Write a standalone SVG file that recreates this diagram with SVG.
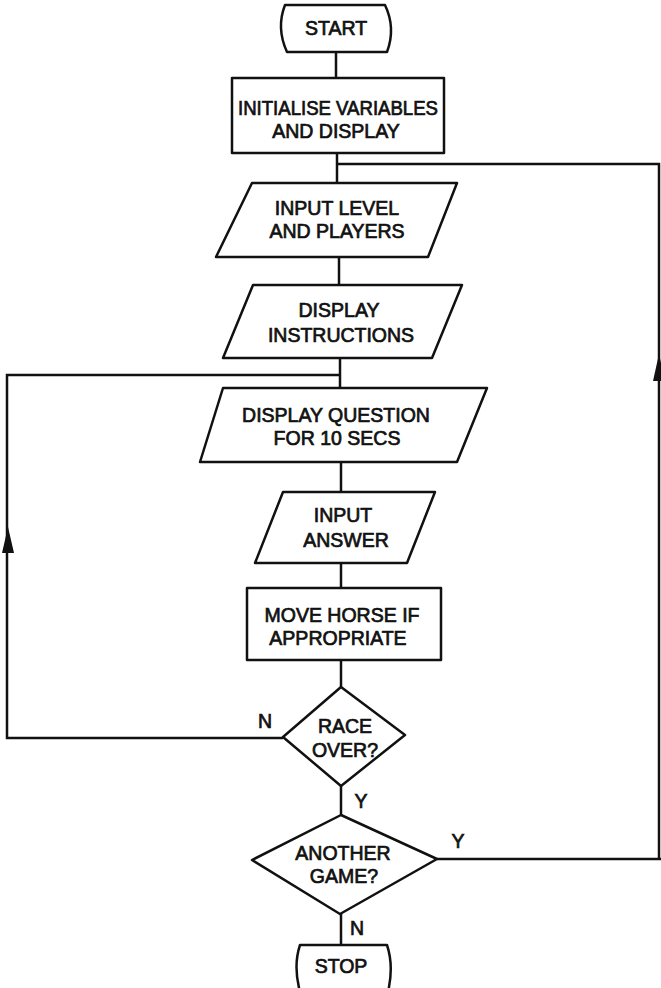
<svg xmlns="http://www.w3.org/2000/svg" width="661" height="988" viewBox="0 0 661 988">
<style>
.s{fill:#fff;stroke:#111;stroke-width:2.5;stroke-linejoin:round}
.c{fill:none;stroke:#111;stroke-width:2.5}
.t{font-family:"Liberation Sans",Arial,sans-serif;font-size:19.5px;fill:#111;stroke:#111;stroke-width:0.7;text-anchor:middle}
.a{fill:#111;stroke:none}
</style>
<rect width="661" height="988" fill="#fff"/>
<g id="connectors">
<path class="c" d="M336 52V78"/>
<path class="c" d="M337 153V183"/>
<path class="c" d="M337 164H659V859"/>
<path class="c" d="M339 257V285"/>
<path class="c" d="M340 357V388"/>
<path class="c" d="M340 375H7V738H283"/>
<path class="c" d="M341 462V492"/>
<path class="c" d="M341 563V588"/>
<path class="c" d="M341 660V687"/>
<path class="c" d="M341 786V815"/>
<path class="c" d="M437 859H661"/>
<path class="c" d="M341 914V945"/>
<polygon class="a" points="8,527 2,553 14,553"/>
<polygon class="a" points="659,354 653,381 665,381"/>
<text class="t" x="265" y="728">N</text>
<text class="t" x="361" y="808">Y</text>
<text class="t" x="458" y="848">Y</text>
<text class="t" x="357" y="935">N</text>
</g>
<g id="start">
<path class="s" d="M285 5H385Q396 28 387 52H287Q276 28 285 5Z"/>
<text class="t" x="336" y="35">START</text>
</g>
<g id="init">
<rect class="s" x="232" y="78" width="212" height="75"/>
<text class="t" x="338" y="115" textLength="200" lengthAdjust="spacingAndGlyphs">INITIALISE VARIABLES</text>
<text class="t" x="336" y="138">AND DISPLAY</text>
</g>
<g id="input-level">
<path class="s" d="M252 183H457L428 257H216Z"/>
<text class="t" x="337" y="215">INPUT LEVEL</text>
<text class="t" x="337" y="238">AND PLAYERS</text>
</g>
<g id="display-instructions">
<path class="s" d="M253 285H462L432 358H223Z"/>
<text class="t" x="339" y="317">DISPLAY</text>
<text class="t" x="341" y="342">INSTRUCTIONS</text>
</g>
<g id="display-question">
<path class="s" d="M223 388H487L457 462H200Z"/>
<text class="t" x="336" y="422">DISPLAY QUESTION</text>
<text class="t" x="337" y="445">FOR 10 SECS</text>
</g>
<g id="input-answer">
<path class="s" d="M283 492H435L407 563H255Z"/>
<text class="t" x="343" y="522">INPUT</text>
<text class="t" x="346" y="547">ANSWER</text>
</g>
<g id="move-horse">
<rect class="s" x="247" y="588" width="194" height="72"/>
<text class="t" x="342" y="622">MOVE HORSE IF</text>
<text class="t" x="338" y="645">APPROPRIATE</text>
</g>
<g id="race-over">
<path class="s" d="M341 687L405 735L341 786L283 737Z"/>
<text class="t" x="345" y="733">RACE</text>
<text class="t" x="345" y="757">OVER?</text>
</g>
<g id="another-game">
<path class="s" d="M341 815L437 859L340 914L252 860Z"/>
<text class="t" x="343" y="860">ANOTHER</text>
<text class="t" x="344" y="883">GAME?</text>
</g>
<g id="stop">
<path class="s" d="M300 945H387Q394 966 388 992H300Q293 966 300 945Z"/>
<text class="t" x="341" y="973">STOP</text>
</g>
</svg>
